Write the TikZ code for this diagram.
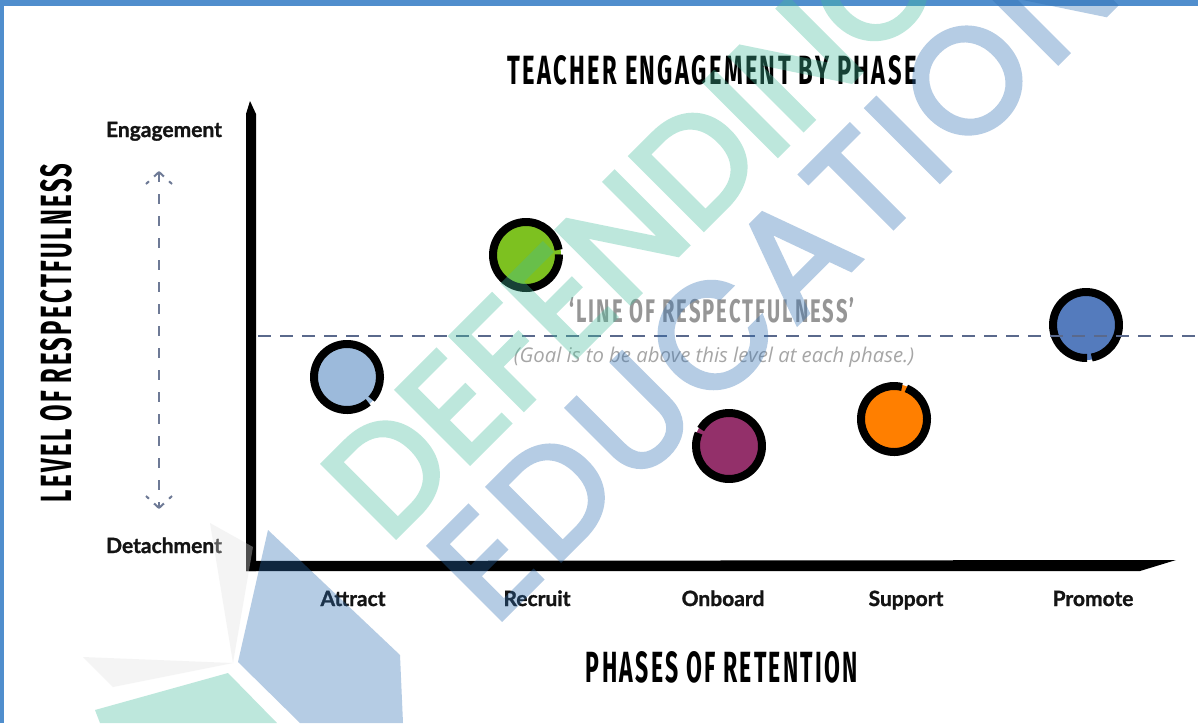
\documentclass[tikz,border=0pt]{standalone}
\usepackage{graphicx,xcolor}
\usepackage{fontspec}
\setmainfont{Lato}[BoldFeatures={FakeBold=1.2}]
\newfontfamily\headfont{Fira Sans}[LetterSpace=10]
\newfontfamily\notefont{Open Sans}
\newfontfamily\markfont{Poppins}[FakeBold=3]
\usepackage{tikz}
\usetikzlibrary{positioning, arrows.meta}
\newcommand{\PicWidth}{1198}
\newcommand{\PicHeight}{723}
% narrow capitals for the headings: squeezed to a given width and cap height
\newcommand{\squeeze}[3]{\resizebox{#1pt}{#2pt}{\headfont\bfseries #3}}
\definecolor{framecol}{RGB}{80,142,205}
\definecolor{dashcol}{RGB}{90,105,140}
\definecolor{scalecol}{RGB}{110,122,150}
\definecolor{linegrey}{RGB}{150,150,150}
\definecolor{notegrey}{RGB}{166,166,166}
\definecolor{attractcol}{RGB}{156,186,219}
\definecolor{recruitcol}{RGB}{125,193,32}
\definecolor{onboardcol}{RGB}{147,48,106}
\definecolor{supportcol}{RGB}{255,127,0}
\definecolor{promotecol}{RGB}{84,123,189}
\definecolor{markgreen}{RGB}{66,189,155}
\definecolor{markblue}{RGB}{44,109,178}
\definecolor{markgrey}{RGB}{225,225,225}

\begin{document}
\begin{tikzpicture}[x=1pt, y=-1pt,
    phase dot/.style={circle, minimum size=70pt, inner sep=0pt},
    ring/.style={line width=8pt, black},
    phase label/.style={font=\fontsize{21}{24}\selectfont\bfseries, text=black!92, anchor=base},
    end label/.style={font=\fontsize{21}{24}\selectfont\bfseries, text=black!92, anchor=base},
    mark text/.style={font=\fontsize{148}{160}\markfont, inner sep=0pt, anchor=base west, rotate=45}]
        \useasboundingbox (0,0) rectangle (\PicWidth,\PicHeight);
        \fill[white] (0,0) rectangle (\PicWidth,\PicHeight);
        % blue frame, top and left
        \fill[framecol] (0,0) rectangle (\PicWidth,6);
        \fill[framecol] (0,0) rectangle (4,\PicHeight);
        % headings
        \node (title) at (712,70) {\squeeze{409}{29}{TEACHER ENGAGEMENT BY PHASE}};
        \node[rotate=90] (ytitle) at (56,333) {\squeeze{339}{31}{LEVEL OF RESPECTFULNESS}};
        \node (xtitle) at (722,667) {\squeeze{272}{31}{PHASES OF RETENTION}};
        % scale on the left
        \node[end label] (engagement) at (164,137) {Engagement};
        \node[end label] (detachment) at (164,553) {Detachment};
        \coordinate (scale top) at (159,172);
        \coordinate (scale bottom) at (159,508);
        \draw[scalecol, line width=2pt, dash pattern=on 10pt off 12pt] (scale top) -- (scale bottom);
        \foreach \side in {-1,1} {
        \draw[scalecol, line width=2pt, dash pattern=on 4pt off 7pt on 7pt] (scale top) ++(13*\side,12) -- (scale top);
        \draw[scalecol, line width=2pt, dash pattern=on 4pt off 7pt on 7pt] (scale bottom) ++(13*\side,-12) -- (scale bottom);
        }
        % draw axes, brush ends
        \fill[black] (246,571) -- (246,114) -- (250,101) -- (256,114) -- (256,571) -- cycle;
        \fill[black] (246,561) -- (1176,560) -- (1140,571) -- (246,571) -- cycle;
        % phase names
        \foreach \x/\name/\descr in {353/attract/Attract, 537/recruit/Recruit, 723/onboard/Onboard, 906/support/Support, 1093/promote/Promote}
        \node[phase label] (\name-label) at (\x,606) {\descr};
        % one ring per phase, with its small nick
        \foreach \name/\x/\y/\col/\gap in
        {attract/347/377/attractcol/46, recruit/526/255/recruitcol/-5, onboard/729/446/onboardcol/207,
         support/894/419/supportcol/288, promote/1086/325/promotecol/84}
        {
        \node[phase dot, fill=\col] (\name) at (\x,\y) {};
        \pgfmathsetmacro{\from}{\gap+4}
        \pgfmathsetmacro{\to}{\gap+356}
        \draw[ring] (\name.center) ++(\from:33) arc[start angle=\from, end angle=\to, radius=33];
        }
        % line of respectfulness
        \coordinate (line start) at (258,336);
        \coordinate (line end) at (\PicWidth,336);
        \draw[dashcol, line width=2.5pt, dash pattern=on 13pt off 9pt] (line start) -- (line end);
        \node[text=linegrey] (line label) at (712,310) {\squeeze{285}{25}{‘LINE OF RESPECTFULNESS’}};
        \node[font=\fontsize{20.3}{22}\selectfont\notefont\itshape, text=notegrey] (goal) at (714,357) {(Goal is to be above this level at each phase.)};
        % watermark over everything, flattened then faded
        \begin{scope}[transparency group, opacity=.35]
        \node[mark text, text=markgreen] (defending) at (388,545) {DEFENDING};
        \node[mark text, text=markblue] (education) at (494,627) {\addfontfeatures{LetterSpace=5}EDUCATION};
        \fill[markblue] (268,530) -- (400,655) -- (403,723) -- (300,723) -- (238,662) -- cycle;
        \fill[markgreen] (95,710) -- (228,673) -- (277,723) -- (100,723) -- cycle;
        \fill[markgrey] (83,657) -- (233,663) -- (113,687) -- cycle;
        \fill[markgrey] (210,523) -- (253,547) -- (233,663) -- cycle;
        \end{scope}
    \end{tikzpicture}
\end{document}
